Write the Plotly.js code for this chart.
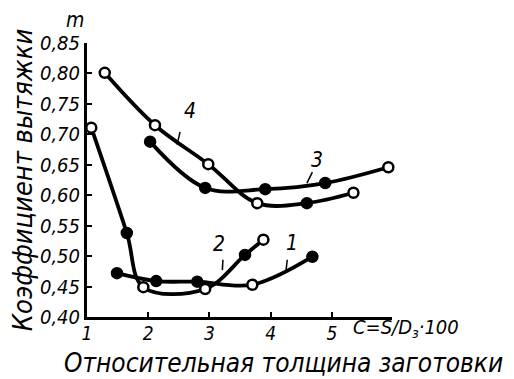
<!DOCTYPE html>
<html>
<head>
<meta charset="utf-8">
<script src="https://cdn.plot.ly/plotly-3.0.1.min.js"></script>
<style>html,body{margin:0;padding:0;background:#fff;}#chart{width:514px;height:379px;}</style>
</head>
<body>
<div id="chart"></div>
<script>
// Data
const x1 = [1.49, 2.13, 2.80, 3.70, 4.68];
const y1 = [0.472, 0.459, 0.458, 0.453, 0.499];
const x2 = [1.07, 1.65, 1.92, 2.93, 3.58, 3.88];
const y2 = [0.711, 0.538, 0.449, 0.446, 0.502, 0.527];
const x3 = [2.03, 2.93, 3.91, 4.89, 5.92];
const y3 = [0.688, 0.612, 0.610, 0.620, 0.646];
const x4 = [1.29, 2.11, 2.98, 3.78, 4.59, 5.35];
const y4 = [0.801, 0.715, 0.651, 0.587, 0.587, 0.604];
const curveNames = ['1', '2', '3', '4'];
const xTicks = [1, 2, 3, 4, 5];
const yTicks = [0.40, 0.45, 0.50, 0.55, 0.60, 0.65, 0.70, 0.75, 0.80, 0.85];

// marker styles (true = open circle)
const open1 = [false, false, false, true, false];
const open2 = [true, false, true, true, false, true];
const open3 = [false, false, false, false, true];
const open4 = [true, true, true, true, false, true];

const FONT = '"DejaVu Sans Condensed", "DejaVu Sans", sans-serif';

function mk(x, y, open, name) {
  return {
    x: x, y: y, name: name, type: 'scatter', mode: 'lines+markers',
    line: {color: '#000', width: 3.8, shape: 'spline', smoothing: 1},
    marker: {size: 10, color: open.map(o => o ? '#fff' : '#000'), line: {color: '#000', width: 2.5}},
    cliponaxis: false, showlegend: false
  };
}

const data = [mk(x1, y1, open1, curveNames[0]), mk(x2, y2, open2, curveNames[1]),
              mk(x3, y3, open3, curveNames[2]), mk(x4, y4, open4, curveNames[3])];

const W = 514 - 87 - 122, H = 379 - 43 - 62;
const px = v => (v - 87) / W;          // pixel -> paper x
const py = v => (379 - 62 - v) / H;    // pixel -> paper y

const lblFont = {family: FONT, size: 21, color: '#000', style: 'italic'};
function label(t, x, y) { return {text: t, x: x, y: y, xref: 'x', yref: 'y', showarrow: false, font: lblFont}; }
function leader(xa, ya, xb, yb) { return {type: 'line', xref: 'x', yref: 'y', x0: xa, y0: ya, x1: xb, y1: yb, line: {color: '#000', width: 1.5}}; }

const layout = {
  width: 514, height: 379,
  margin: {l: 87, r: 122, t: 43, b: 62},
  paper_bgcolor: '#fff', plot_bgcolor: '#fff',
  separators: ', ',
  xaxis: {
    range: [1, 5.98], tickvals: xTicks, ticktext: xTicks.map(String),
    showgrid: false, zeroline: false, showline: true, linecolor: '#000', linewidth: 3,
    ticks: 'inside', ticklen: 5, tickwidth: 2, tickcolor: '#000', ticklabelstandoff: -3,
    tickfont: {family: FONT, size: 19, color: '#000', style: 'italic'}
  },
  yaxis: {
    range: [0.40, 0.85], tickvals: yTicks, tickformat: '.2f',
    showgrid: false, zeroline: false, showline: true, linecolor: '#000', linewidth: 3,
    ticks: 'inside', ticklen: 5, tickwidth: 2, tickcolor: '#000',
    tickfont: {family: FONT, size: 20, color: '#000', style: 'italic'},
    title: {text: 'Коэффициент вытяжки', font: {family: FONT, size: 27, color: '#000', style: 'italic'}, standoff: 0}
  },
  shapes: [
    leader(2.52, 0.704, 2.47, 0.683),
    leader(4.68, 0.638, 4.59, 0.620),
    leader(3.22, 0.494, 3.21, 0.477),
    leader(4.27, 0.494, 4.25, 0.477)
  ],
  annotations: [
    label('4', 2.68, 0.738),
    label('3', 4.76, 0.658),
    label('2', 3.16, 0.520),
    label('1', 4.35, 0.522),
    {text: 'm', x: px(75), y: py(20), xref: 'paper', yref: 'paper', xanchor: 'center', yanchor: 'middle', showarrow: false,
     font: {family: FONT, size: 21, color: '#000', style: 'italic'}},
    {text: 'C=S/D<sub>з</sub>·100', x: px(351), y: py(328), xref: 'paper', yref: 'paper', xanchor: 'left', yanchor: 'middle', showarrow: false,
     font: {family: FONT, size: 20, color: '#000', style: 'italic'}},
    {text: 'Относительная толщина заготовки', x: px(283), y: py(363), xref: 'paper', yref: 'paper', xanchor: 'center', yanchor: 'middle', showarrow: false,
     font: {family: FONT, size: 26, color: '#000', style: 'italic'}}
  ]
};

Plotly.newPlot('chart', data, layout, {displayModeBar: false, staticPlot: true});
</script>
</body>
</html>
